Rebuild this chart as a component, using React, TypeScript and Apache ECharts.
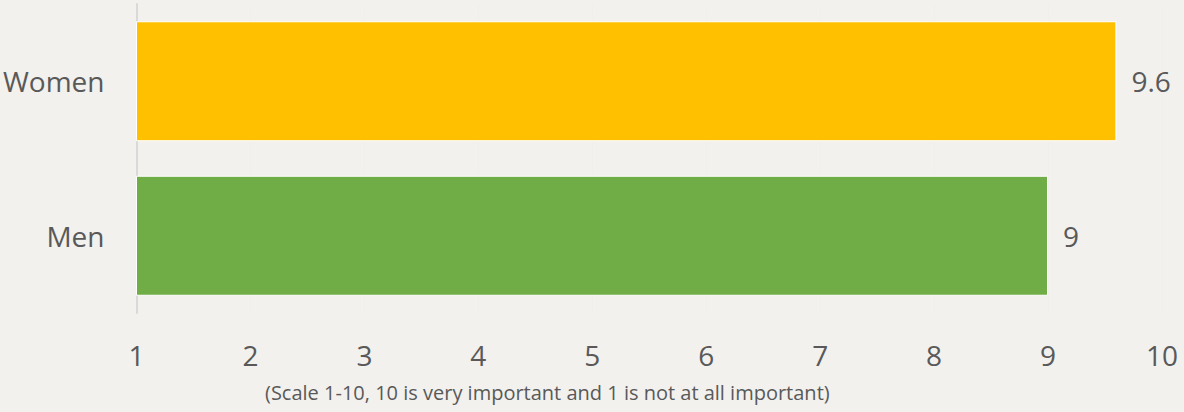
import React, { useEffect, useRef } from "react";
import * as echarts from "echarts";

const categories = ["Men", "Women"];
const values = [9, 9.6];
const barColors = ["#70AD47", "#FFC000"];
const xTicks = [1, 2, 3, 4, 5, 6, 7, 8, 9, 10];
const axisNote = "(Scale 1-10, 10 is very important and 1 is not at all important)";

export default function App() {
  const ref = useRef<HTMLDivElement>(null);
  useEffect(() => {
    if (!ref.current) return;
    const chart = echarts.init(ref.current, null, { renderer: "svg" });
    const font = "'Open Sans', sans-serif";
    chart.setOption({
      animation: false,
      backgroundColor: "#F2F1EE",
      textStyle: { fontFamily: font },
      grid: { left: 135, right: 22, top: 4, bottom: 99 },
      xAxis: {
        type: "value",
        min: xTicks[0],
        max: xTicks[xTicks.length - 1],
        interval: 1,
        axisLine: { show: false },
        axisTick: { show: false },
        splitLine: { show: true, lineStyle: { color: "#F0EFEC", width: 1 } },
        axisLabel: { color: "#595959", fontSize: 28, fontFamily: font, margin: 28 },
      },
      yAxis: {
        type: "category",
        data: categories,
        axisLine: { show: true, lineStyle: { color: "#D9D9D9", width: 2 } },
        axisTick: { show: false },
        axisLabel: { color: "#595959", fontSize: 28, fontFamily: font, margin: 32 },
      },
      series: [
        {
          type: "bar",
          barWidth: 120,
          data: values.map((v, i) => ({
            value: v,
            itemStyle: { color: barColors[i], borderColor: "#FFFFFF", borderWidth: 1 },
          })),
          label: {
            show: true,
            position: "right",
            distance: 15,
            color: "#595959",
            fontSize: 28,
            fontFamily: font,
          },
        },
      ],
      graphic: [
        {
          type: "text",
          left: 265,
          top: 382,
          style: { text: axisNote, fill: "#595959", fontSize: 20, fontFamily: font },
        },
      ],
    });
    return () => chart.dispose();
  }, []);
  return (
    <div
      ref={ref}
      style={{ position: "fixed", left: 0, top: 0, width: 1184, height: 412 }}
    />
  );
}
